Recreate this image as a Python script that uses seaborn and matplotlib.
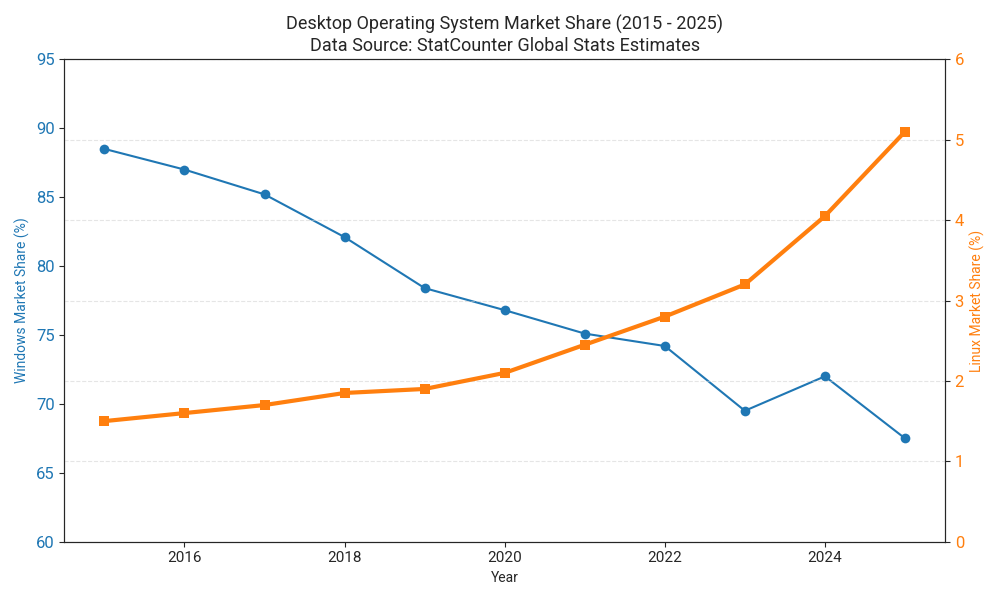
import matplotlib.pyplot as plt
import seaborn as sns

years = [2015, 2016, 2017, 2018, 2019, 2020, 2021, 2022, 2023, 2024, 2025]
windows_share = [88.5, 87.0, 85.2, 82.1, 78.4, 76.8, 75.1, 74.2, 69.5, 72.0, 67.5]
linux_share = [1.5, 1.6, 1.7, 1.85, 1.9, 2.1, 2.45, 2.8, 3.2, 4.05, 5.1]

sns.set_style("ticks")
plt.rcParams['font.family'] = ['Roboto', 'DejaVu Sans']

blue = '#1f77b4'
orange = '#ff7f0e'

fig, ax1 = plt.subplots(figsize=(10, 6), dpi=100)
sns.lineplot(x=years, y=windows_share, ax=ax1, color=blue, marker='o',
             markersize=7, markeredgewidth=0, linewidth=1.5)
ax1.set_ylim(60, 95)
ax1.set_xlabel('Year')
ax1.set_ylabel('Windows Market Share (%)', color=blue)
ax1.tick_params(axis='y', labelcolor=blue, labelsize=12)
ax1.tick_params(axis='x', labelsize=11)

ax2 = ax1.twinx()
sns.lineplot(x=years, y=linux_share, ax=ax2, color=orange, marker='s',
             markersize=7, markeredgewidth=0, linewidth=3)
ax2.set_ylim(0, 6)
ax2.set_ylabel('Linux Market Share (%)', color=orange)
ax2.tick_params(axis='y', labelcolor=orange, labelsize=12)
ax2.grid(axis='y', linestyle='--', alpha=0.5)

ax1.set_title('Desktop Operating System Market Share (2015 - 2025)\n'
              'Data Source: StatCounter Global Stats Estimates', fontsize=13)
fig.tight_layout()
fig.savefig('out.png')
